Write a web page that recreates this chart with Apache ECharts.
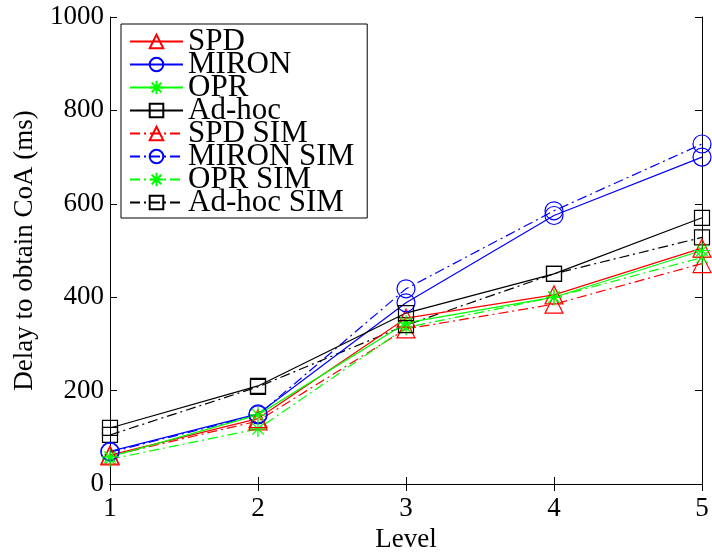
<!DOCTYPE html>
<html><head><meta charset="utf-8">
<script src="https://cdn.jsdelivr.net/npm/echarts@6/dist/echarts.min.js"></script>
<style>html,body{margin:0;padding:0;background:#fff}#c{width:712px;height:552px}</style>
</head><body><div id="c"></div>
<script>
const levels = [1, 2, 3, 4, 5];
const spd      = [62, 140, 355, 405, 505];
const miron    = [70, 150, 388, 575, 700];
const opr      = [58, 148, 345, 400, 500];
const adhoc    = [120, 210, 366, 450, 570];
const spdSim   = [60, 135, 332, 385, 472];
const mironSim = [68, 148, 418, 585, 728];
const oprSim   = [53, 118, 335, 400, 485];
const adhocSim = [105, 208, 340, 450, 528];
const yTicks = [0, 200, 400, 600, 800, 1000];

const FONT = 'Liberation Serif';
const star = 'path://M0,-10L0,10M-10,0L10,0M-7.07,-7.07L7.07,7.07M-7.07,7.07L7.07,-7.07';
const dashDot = [10, 4, 2, 4];

function mk(name, vals, color, symbol, size, sim) {
  return {
    name: name, type: 'line',
    data: levels.map((l, i) => [l, vals[i]]),
    symbol: symbol, symbolSize: size, showSymbol: true,
    lineStyle: { color: color, width: 1.2, type: sim ? dashDot : 'solid' },
    itemStyle: { color: 'rgba(0,0,0,0)', borderColor: color, borderWidth: 1.2 },
    emphasis: { disabled: true },
    animation: false, z: sim ? 3 : 4
  };
}

const chart = echarts.init(document.getElementById('c'), null, { renderer: 'canvas' });
chart.setOption({
  backgroundColor: '#fff',
  animation: false,
  grid: { left: 110, right: 10, top: 17, bottom: 68, containLabel: false, outerBoundsMode: 'none' },
  legend: {
    orient: 'vertical', left: 121, top: 24,
    backgroundColor: '#fff', borderColor: '#000', borderWidth: 1,
    padding: [2, 13, 0, 8],
    itemWidth: 53, itemHeight: 17, itemGap: -8,
    textStyle: { fontFamily: FONT, fontSize: 31, color: '#000' },
    data: ['SPD', 'MIRON', 'OPR', 'Ad-hoc', 'SPD SIM', 'MIRON SIM', 'OPR SIM', 'Ad-hoc SIM']
  },
  xAxis: [{
    type: 'value', min: 1, max: 5, interval: 1,
    name: 'Level', nameLocation: 'middle', nameGap: 42,
    nameTextStyle: { fontFamily: FONT, fontSize: 27, color: '#000' },
    axisLine: { lineStyle: { color: '#000', width: 1 } },
    axisTick: { inside: true, length: 7, lineStyle: { color: '#000' } },
    axisLabel: { fontFamily: FONT, fontSize: 27, color: '#000', margin: 11 },
    splitLine: { show: false }
  }, {
    type: 'value', min: 1, max: 5, interval: 1, position: 'top',
    axisLine: { lineStyle: { color: '#000', width: 1 } },
    axisTick: { inside: true, length: 7, lineStyle: { color: '#000' } },
    axisLabel: { show: false }, splitLine: { show: false }
  }],
  yAxis: [{
    type: 'value', min: 0, max: 1000, interval: 200,
    name: 'Delay to obtain CoA (ms)', nameLocation: 'middle', nameGap: 72,
    nameTextStyle: { fontFamily: FONT, fontSize: 27, color: '#000' },
    axisLine: { show: true, lineStyle: { color: '#000', width: 1 } },
    axisTick: { show: true, inside: true, length: 7, lineStyle: { color: '#000' } },
    axisLabel: { fontFamily: FONT, fontSize: 27, color: '#000', margin: 6,
      formatter: v => yTicks.includes(v) ? String(v) : '' },
    splitLine: { show: false }
  }, {
    type: 'value', min: 0, max: 1000, interval: 200, position: 'right',
    axisLine: { show: true, lineStyle: { color: '#000', width: 1 } },
    axisTick: { show: true, inside: true, length: 7, lineStyle: { color: '#000' } },
    axisLabel: { show: false }, splitLine: { show: false }
  }],
  series: [
    mk('SPD', spd, '#ff0000', 'triangle', 18, false),
    mk('MIRON', miron, '#0000ff', 'circle', 18, false),
    mk('OPR', opr, '#00ff00', star, 16, false),
    mk('Ad-hoc', adhoc, '#000000', 'rect', 15, false),
    mk('SPD SIM', spdSim, '#ff0000', 'triangle', 18, true),
    mk('MIRON SIM', mironSim, '#0000ff', 'circle', 18, true),
    mk('OPR SIM', oprSim, '#00ff00', star, 16, true),
    mk('Ad-hoc SIM', adhocSim, '#000000', 'rect', 15, true)
  ]
});
</script></body></html>
